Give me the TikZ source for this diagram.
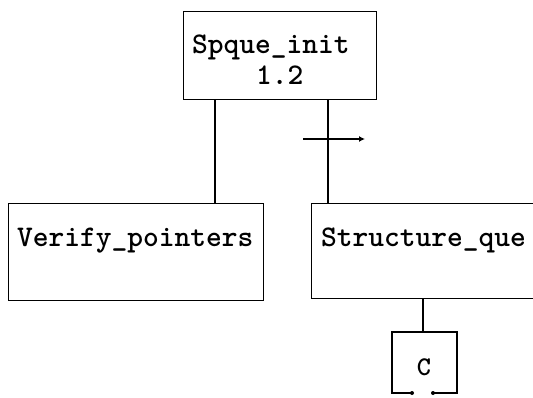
\documentclass[tikz,border=0pt]{standalone}
\usepackage{fontspec}
\usetikzlibrary{arrows.meta}
\begin{document}
\begin{tikzpicture}[x=1pt,y=-1pt,
  box/.style={draw,line width=1.3pt,inner sep=0pt,anchor=north west},
  lbl/.style={font=\ttfamily\bfseries\fontsize{30}{33}\selectfont,inner sep=0pt,anchor=base west},
  conn/.style={line width=1.3pt}]
\useasboundingbox (0,0) rectangle (533,397);
\clip (0,0) rectangle (533,397);
\node[box,minimum width=193pt,minimum height=88pt] (top) at (183,11) {};
\node[box,minimum width=255pt,minimum height=97pt] (left) at (8,203) {};
\node[box,minimum width=240pt,minimum height=95pt] (right) at (311,203) {};
\node[lbl] (t1) at (192,53) {Spque\_init};
\node[lbl] (t2) at (256,84) {1.2};
\node[lbl] (t3) at (17,246) {Verify\_pointers};
\node[lbl] (t4) at (321,246) {Structure\_que};
% C box with gapped bottom
\coordinate (cnw) at (392,332);
\coordinate (cne) at (457,332);
\coordinate (csw) at (392,393);
\coordinate (cse) at (457,393);
\coordinate (cg1) at (412,393);
\coordinate (cg2) at (433,393);
\draw[conn,line cap=round] (cg1) -- (csw) -- (cnw) -- (cne) -- (cse) -- (cg2);
\fill (cg1) circle (2pt);
\fill (cg2) circle (2pt);
\node[font=\ttfamily\bfseries\fontsize{27}{30}\selectfont,inner sep=0pt] (c) at (424,367) {C};
% connectors
\coordinate (lx) at (215,0);
\coordinate (rx) at (328,0);
\coordinate (cx) at (423,0);
\draw[conn] (top.south -| lx) -- (left.north -| lx);
\draw[conn] (top.south -| rx) -- (right.north -| rx);
\draw[conn] (right.south -| cx) -- (cnw -| cx);
\coordinate (a1) at (303,139);
\coordinate (a2) at (365,139);
\draw[conn,-{Latex[length=6pt,width=6pt]}] (a1) -- (a2);
\end{tikzpicture}
\end{document}
